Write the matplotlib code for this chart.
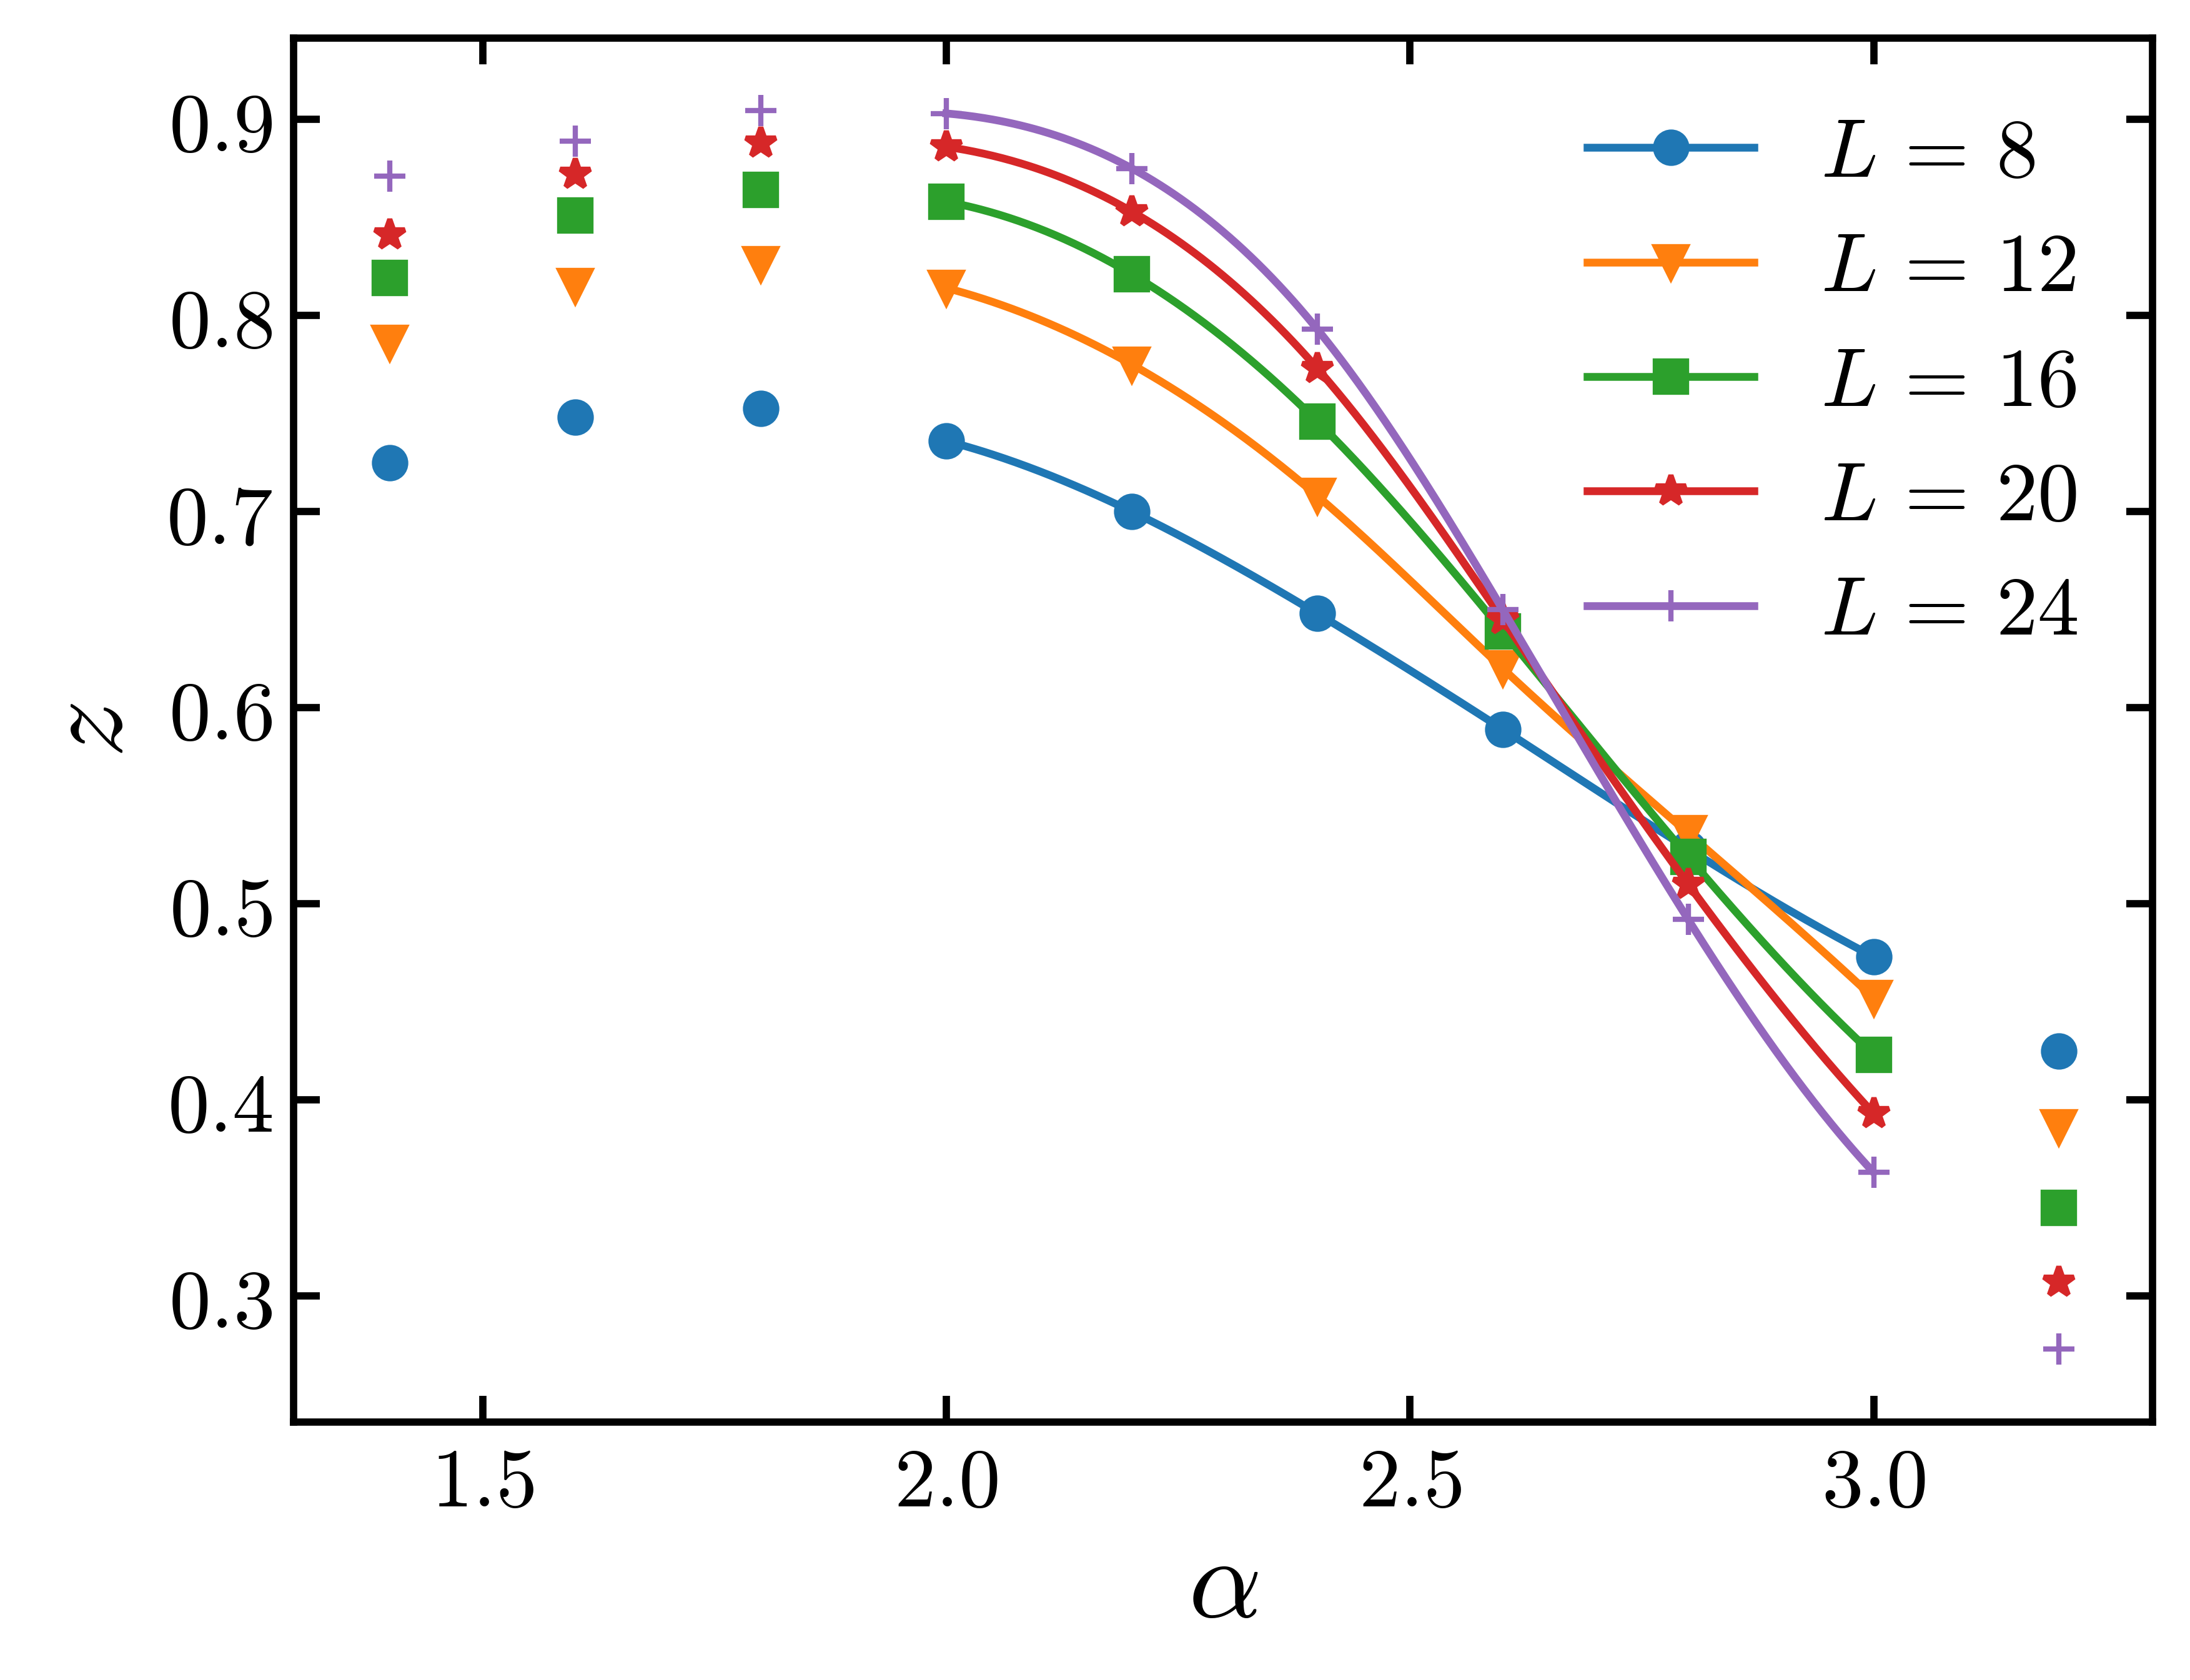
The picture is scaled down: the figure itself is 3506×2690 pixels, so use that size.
import numpy as np
import matplotlib
matplotlib.use("Agg")
import matplotlib.pyplot as plt
from matplotlib.lines import Line2D
from matplotlib.ticker import FuncFormatter, MultipleLocator

# data
alpha = [1.4, 1.6, 1.8, 2.0, 2.2, 2.4, 2.6, 2.8, 3.0, 3.2]
z_L8 = [0.725, 0.748, 0.7525, 0.736, 0.700, 0.648, 0.589, 0.528, 0.473, 0.425]
z_L12 = [0.786, 0.815, 0.826, 0.814, 0.775, 0.708, 0.620, 0.536, 0.452, 0.386]
z_L16 = [0.819, 0.851, 0.864, 0.858, 0.821, 0.746, 0.639, 0.524, 0.423, 0.345]
z_L20 = [0.841, 0.872, 0.888, 0.886, 0.853, 0.773, 0.645, 0.510, 0.393, 0.307]
z_L24 = [0.871, 0.889, 0.9045, 0.903, 0.875, 0.793, 0.650, 0.492, 0.363, 0.273]
sizes = [8, 12, 16, 20, 24]

# range where the smooth curve is drawn
fit_lo, fit_hi = 2.0, 3.0


def spline_curve(x, y, n=400):
    # not-a-knot cubic spline through the points (for drawing the line only)
    x = np.asarray(x, float)
    y = np.asarray(y, float)
    m = len(x)
    h = np.diff(x)
    A = np.zeros((m, m))
    b = np.zeros(m)
    A[0, 0], A[0, 1], A[0, 2] = -h[1], h[0] + h[1], -h[0]
    A[-1, -3], A[-1, -2], A[-1, -1] = -h[-1], h[-2] + h[-1], -h[-2]
    for i in range(1, m - 1):
        A[i, i - 1] = h[i - 1]
        A[i, i] = 2 * (h[i - 1] + h[i])
        A[i, i + 1] = h[i]
        b[i] = 6 * ((y[i + 1] - y[i]) / h[i] - (y[i] - y[i - 1]) / h[i - 1])
    M = np.linalg.solve(A, b)
    xs = np.linspace(x[0], x[-1], n)
    k = np.clip(np.searchsorted(x, xs) - 1, 0, m - 2)
    hk = h[k]
    t1 = x[k + 1] - xs
    t0 = xs - x[k]
    ys = (M[k] * t1**3 / (6 * hk) + M[k + 1] * t0**3 / (6 * hk)
          + (y[k] / hk - M[k] * hk / 6) * t1
          + (y[k + 1] / hk - M[k + 1] * hk / 6) * t0)
    return xs, ys


plt.rcParams["mathtext.fontset"] = "cm"
plt.rcParams["axes.linewidth"] = 1.4

fig = plt.figure(figsize=(3506 / 600, 2690 / 600), dpi=600)
ax = fig.add_axes([0.134, 0.1535, 0.849, 0.8238])

series = [z_L8, z_L12, z_L16, z_L20, z_L24]
markers = ["o", "v", "s", "*", "+"]
colors = ["C0", "C1", "C2", "C3", "C4"]

x_arr = np.array(alpha)
handles = []
for L, zs, mk, c in zip(sizes, series, markers, colors):
    zs = np.array(zs)
    sel = (x_arr >= fit_lo - 1e-9) & (x_arr <= fit_hi + 1e-9)
    xs, ys = spline_curve(x_arr[sel], zs[sel])
    ax.plot(xs, ys, color=c, lw=1.5)
    ax.plot(x_arr, zs, ls="none", marker=mk, color=c, ms=6)
    handles.append(Line2D([], [], color=c, lw=1.5, marker=mk, ms=6,
                          label=r"$L\,=\,%d$" % L))

ax.set_xlim(1.296, 3.301)
ax.set_ylim(0.2357, 0.9414)
ax.xaxis.set_major_locator(MultipleLocator(0.5))
ax.yaxis.set_major_locator(MultipleLocator(0.1))
fmt = FuncFormatter(lambda v, p: r"$%.1f$" % v)
ax.xaxis.set_major_formatter(fmt)
ax.yaxis.set_major_formatter(fmt)
ax.tick_params(direction="in", top=True, right=True, length=5, width=1.4,
               labelsize=16, pad=4)

ax.set_xlabel(r"$\alpha$", fontsize=22, labelpad=1)
ax.set_ylabel(r"$z$", fontsize=22)

ax.legend(handles=handles, loc="upper right", frameon=False, fontsize=16,
          labelspacing=0.4)

fig.savefig("out.png", dpi=600)
